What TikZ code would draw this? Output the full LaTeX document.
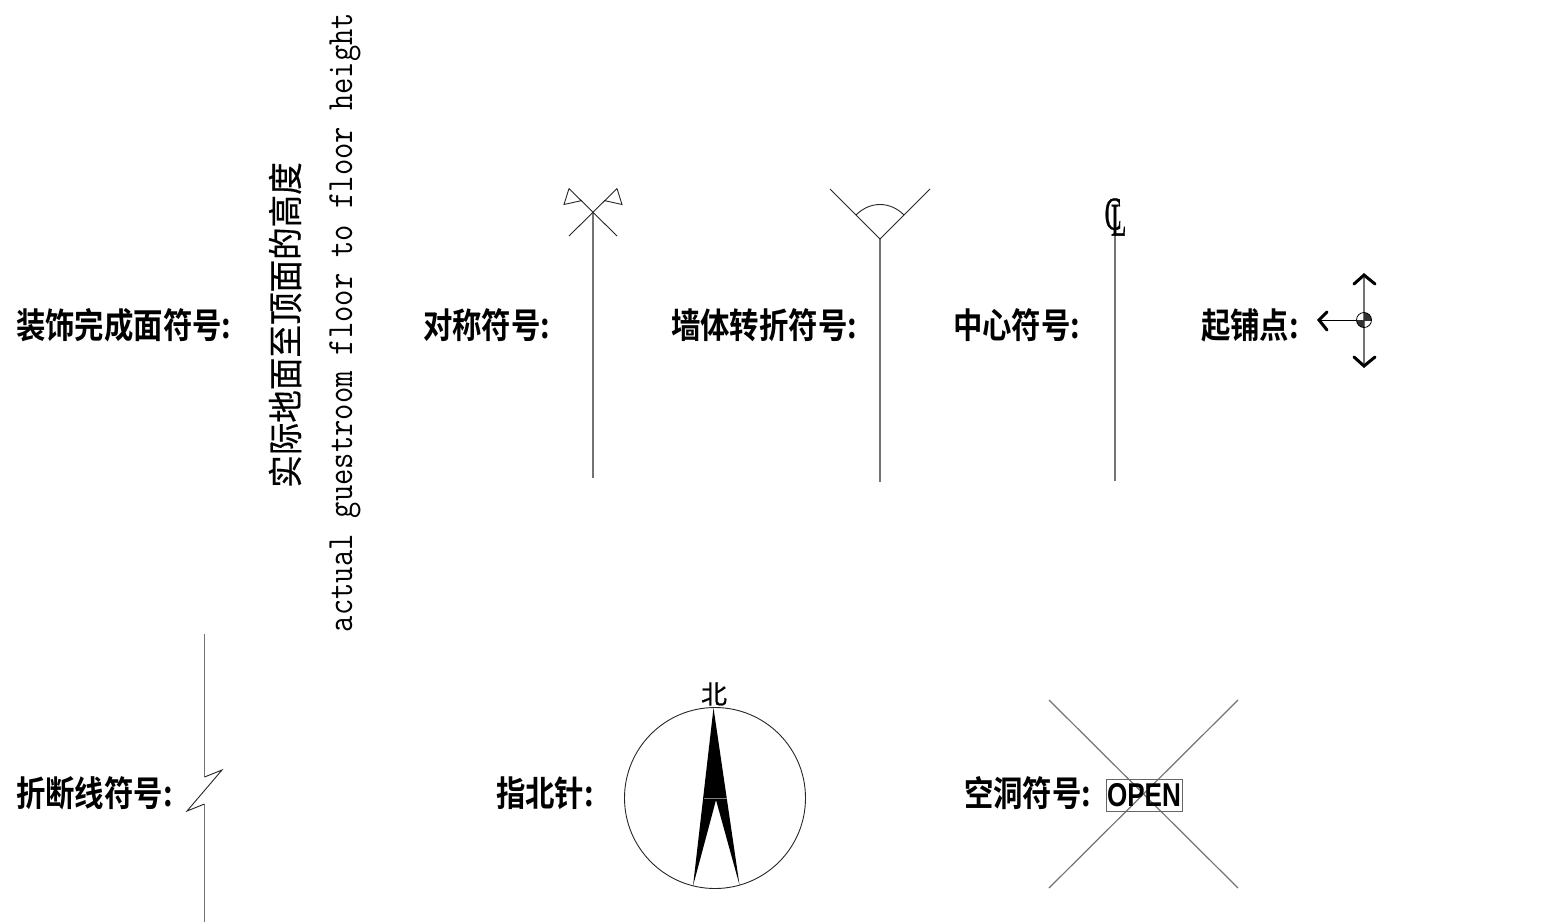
\documentclass[tikz,border=0pt]{standalone}
\usepackage{fontspec}
\setmainfont{Liberation Sans}
\newfontfamily\cjkb[BoldFont=Noto Sans CJK SC Bold]{Noto Sans CJK SC}
\newfontfamily\cjkreg[FakeBold=0.5]{Noto Sans CJK SC}
\newfontfamily\serifb[FakeBold=0.8]{Liberation Serif}
\tikzset{
  lab/.style={anchor=west,inner sep=0pt,xscale=.84,font=\cjkb\bfseries\fontsize{35}{35}\selectfont},
  ln/.style={draw=black!55,line width=1.2pt},
  thin ink/.style={draw=black!85,line width=.9pt},
  chev/.style={draw=black,line width=3pt,line cap=round,line join=miter}
}
\begin{document}
\begin{tikzpicture}[x=1pt,y=-1pt]
\useasboundingbox (0,0) rectangle (1541,922);
\node[lab] (a1) at (16,325) {装饰完成面符号:};
\node[lab] (a2) at (423,325) {对称符号:};
\node[lab] (a3) at (671,325) {墙体转折符号:};
\node[lab] (a4) at (953,325) {中心符号:};
\node[lab] (a5) at (1201,325) {起铺点:};
\node[lab] (b1) at (16,793) {折断线符号:};
\node[lab] (b2) at (496,793) {指北针:};
\node[lab] (b3) at (964,793) {空洞符号:};
% rotated texts
\node[rotate=90,inner sep=0pt,xscale=.93,font=\cjkreg\fontsize{35}{35}\selectfont] (v1) at (285,325) {实际地面至顶面的高度};
\node[rotate=90,inner sep=0pt,xscale=.855,font=\ttfamily\fontsize{37}{37}\selectfont\addfontfeature{FakeBold=0.6}] (v2) at (345,322.5) {actual guestroom floor to floor height};
% symmetry
\draw[ln] (593,212)--(593,478);
\draw[thin ink] (569,236)--(617,188.5) (617,188.5)--(622,204.5)--(604,200.5);
\draw[thin ink] (617,236)--(569,188.5) (569,188.5)--(564,204.5)--(582,200.5);
% wall turn
\draw[ln] (880,239)--(880,482);
\draw[thin ink] (830,189)--(880,239)--(930,189);
\draw[thin ink] (856,215) .. controls (870,201) and (890,201) .. (904,215);
% centre
\draw[ln] (1115,234)--(1115,481);
\node[inner sep=0pt,xscale=.54,font=\serifb\fontsize{47}{47}\selectfont] (cl) at (1115.5,217) {C\kern-.42em\raisebox{-.13em}{L}};
% start point
\draw[ln] (1364,276)--(1364,366);
\draw[draw=black,line width=1pt] (1319,320)--(1364,320);
\draw[chev] (1354,284)--(1364,275)--(1375,284);
\draw[chev] (1354,357)--(1364,366)--(1375,357);
\draw[chev] (1327,312)--(1319,320)--(1327,330);
\begin{scope}
\clip (1364,311) rectangle (1373,320);
\fill[black!80] (1364,320) circle (7.5);
\end{scope}
\begin{scope}
\clip (1355,320) rectangle (1364,329);
\fill[black!80] (1364,320) circle (7.5);
\end{scope}
\draw[black,line width=.8pt] (1364,320) circle (7.5);
% break line
\draw[ln] (204.5,634)--(204.5,777);
\draw[ln] (204.5,804)--(204.5,922);
\draw[thin ink] (204.5,777)--(222,770)--(187,811)--(204.5,804);
% north
\draw[thin ink] (715,798) circle (90.5);
\fill[black] (713.5,708)--(739.5,885)--(716,800)--(693,886)--cycle;
\draw[black!50,line width=.5pt] (704,798)--(727,798);
\node[inner sep=0pt,font=\cjkreg\fontsize{26}{26}\selectfont] (n) at (714,694) {北};
% open
\draw[ln] (1049,700)--(1238,888);
\draw[ln] (1238,700)--(1049,888);
\draw[thin ink,draw=black!60] (1106,779) rectangle (1182,811);
\node[inner sep=0pt,font=\bfseries\fontsize{33}{33}\selectfont,xscale=.79] (o) at (1144,795) {OPEN};
\end{tikzpicture}
\end{document}
